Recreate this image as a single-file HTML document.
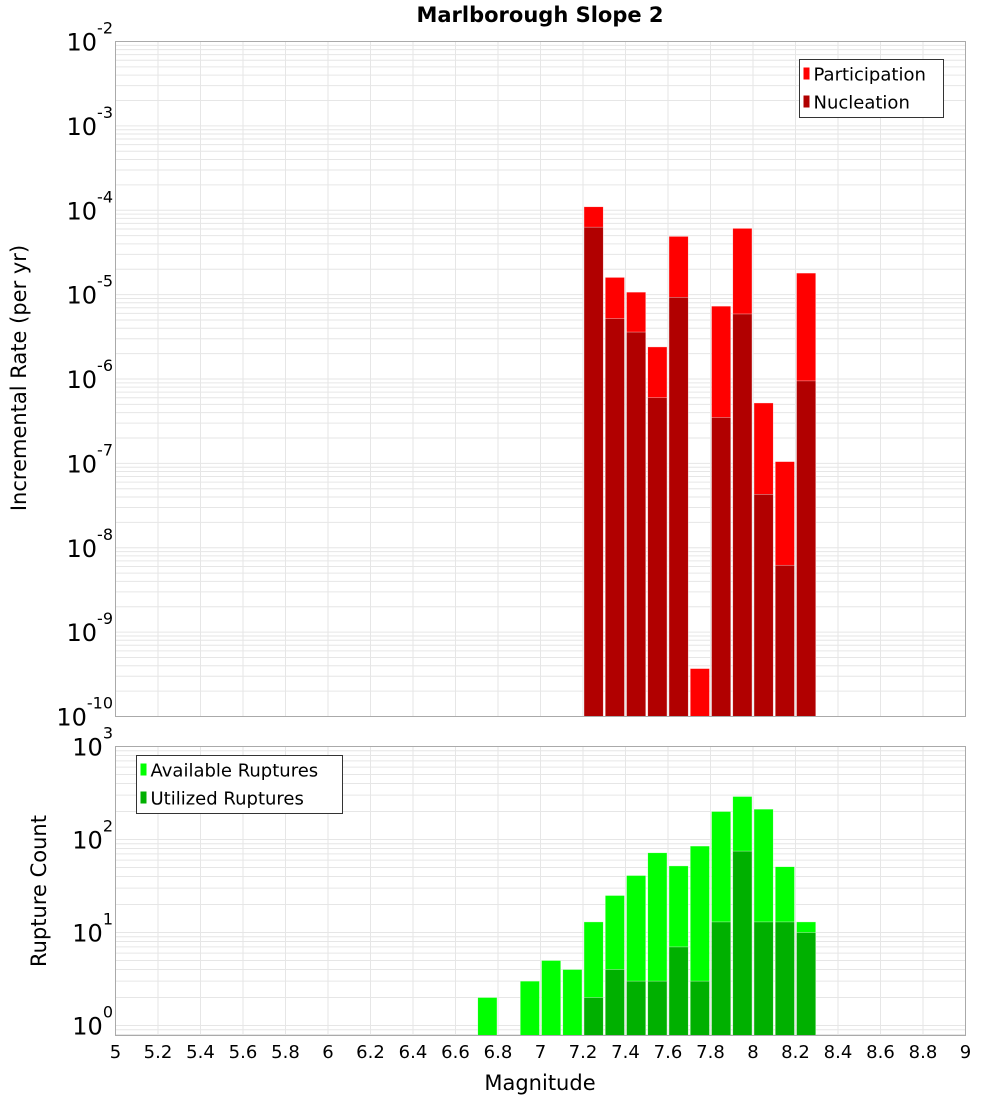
<!DOCTYPE html>
<html><head><meta charset="utf-8"><style>
body{margin:0;background:#fff;}
svg{display:block;font-family:"DejaVu Sans","Liberation Sans",sans-serif;}
</style></head><body>
<svg id="c" width="1000" height="1100">
<text x="540" y="22" text-anchor="middle" font-size="21" font-weight="bold">Marlborough Slope 2</text>
<text transform="translate(26,378) rotate(-90)" text-anchor="middle" font-size="21">Incremental Rate (per yr)</text>
<text transform="translate(46,891) rotate(-90)" text-anchor="middle" font-size="21">Rupture Count</text>
<text x="540" y="1090" text-anchor="middle" font-size="21">Magnitude</text>
<g id="g"></g>
</svg>
<script>
const bins = [6.75,6.85,6.95,7.05,7.15,7.25,7.35,7.45,7.55,7.65,7.75,7.85,7.95,8.05,8.15,8.25];
const participation = [0,0,0,0,0,1.1e-4,1.6e-5,1.07e-5,2.4e-6,4.9e-5,3.7e-10,7.3e-6,6.1e-5,5.2e-7,1.05e-7,1.8e-5];
const nucleation = [0,0,0,0,0,6.3e-5,5.2e-6,3.6e-6,6e-7,9.3e-6,0,3.5e-7,5.9e-6,4.3e-8,6.2e-9,9.5e-7];
const available = [2,0,3,5,4,13,25,41,72,52,85,200,290,212,51,13];
const utilized = [0,0,0,0,0,2,4,3,3,7,3,13,75,13,13,10];
const xTicks = ["5","5.2","5.4","5.6","5.8","6","6.2","6.4","6.6","6.8","7","7.2","7.4","7.6","7.8","8","8.2","8.4","8.6","8.8","9"];
const topExps = [-2,-3,-4,-5,-6,-7,-8,-9,-10];
const botExps = [3,2,1,0];

const NS="http://www.w3.org/2000/svg";
const g=document.getElementById('g');
function el(t,a,p){const e=document.createElementNS(NS,t);for(const k in a)e.setAttribute(k,a[k]);(p||g).appendChild(e);return e;}
const L=115.5,R=965.5;
const xs=m=>L+(m-5)/4*(R-L);
const T1=41.5,B1=716.5; const yTop=v=>T1+(-2-Math.log10(v))*(B1-T1)/8;
const T2=746.5,B2=1035.5; const D2=93; const yBot=v=>T2+(3-Math.log10(v))*D2;

function grid(T,B,emax,emin,yf){
  for(let e=emax;e>emin;e--){for(let k=1;k<10;k++){const y=yf(k*Math.pow(10,e-1));if(y>T&&y<B){const l=el('line',{x1:L,x2:R,y1:y,y2:y,stroke:'#e6e6e6','stroke-width':1});}}}
  xTicks.forEach(t=>{const x=xs(+t);const l=el('line',{x1:x,x2:x,y1:T,y2:B,stroke:'#e6e6e6'});});
}
grid(T1,B1,-2,-11,yTop);
grid(T2,B2,3,-1,yBot);

function bars(vals,color,yf,B,name){
  bins.forEach((b,i)=>{const v=vals[i];if(!v)return;const y=Math.max(yf(v),0);
    const r=el('rect',{x:xs(b-0.05)+1,y:y,width:xs(b+0.05)-xs(b-0.05)-2,height:B-y,fill:color,stroke:'rgba(255,255,255,0.6)','stroke-width':0.6});
    
    });
}
bars(participation,'#ff0000',yTop,B1,'participation');
bars(nucleation,'#b10000',yTop,B1,'nucleation');
bars(available,'#00ff00',yBot,B2,'available');
bars(utilized,'#00b000',yBot,B2,'utilized');

[[T1,B1],[T2,B2]].forEach(([T,B])=>{const r=el('rect',{x:L,y:T,width:R-L,height:B-T,fill:'none',stroke:'#aaa'});});

function ylabels(exps,yf){
  exps.forEach(e=>{const y=yf(Math.pow(10,e));const t=el('text',{x:113,y:y+9,'text-anchor':'end','font-size':24});
    
    
    const a=document.createElementNS(NS,'tspan');a.textContent='10';t.appendChild(a);
    const s=document.createElementNS(NS,'tspan');s.setAttribute('dy','-17');s.setAttribute('font-size','16');s.textContent=String(e);t.appendChild(s);});
}
ylabels(topExps,yTop);
ylabels(botExps,yBot);
xTicks.forEach(t=>{const x=xs(+t);const e=el('text',{x:x,y:1058,'text-anchor':'middle','font-size':18});e.textContent=t;
  
  });

function legend(x,y,w,items,name){
  const b=el('rect',{x:x,y:y,width:w,height:58,fill:'#fff',stroke:'#333'});
  
  
  items.forEach(([lab,c],i)=>{const yy=y+14+i*28;
    const s=el('rect',{x:x+4,y:yy-6,width:6,height:12,fill:c});
    
    
    const t=el('text',{x:x+14,y:yy+7,'font-size':18});t.textContent=lab;
    
    });
}
legend(799.5,59.5,144,[['Participation','#ff0000'],['Nucleation','#b10000']],'top-legend');
legend(136.5,755.5,206,[['Available Ruptures','#00ff00'],['Utilized Ruptures','#00b000']],'bottom-legend');
</script>
</body></html>
